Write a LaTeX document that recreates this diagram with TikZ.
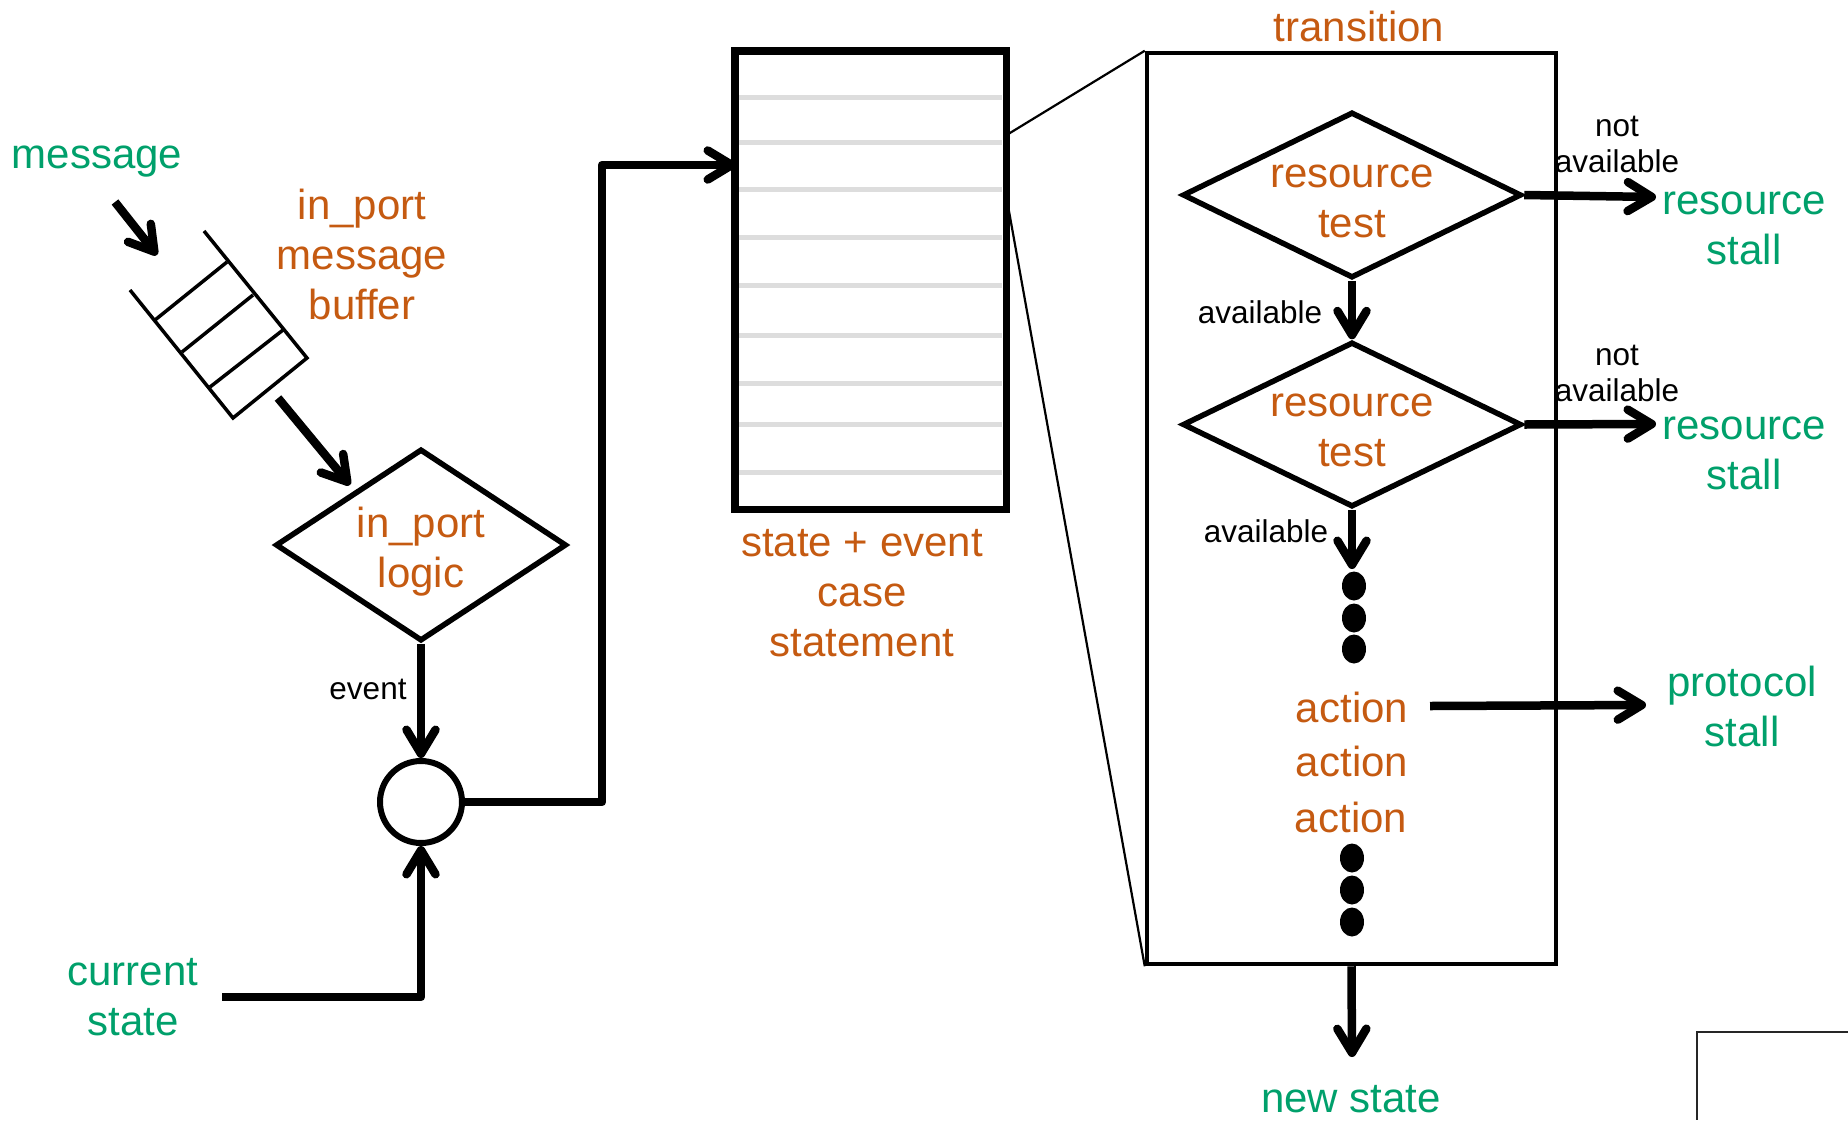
\documentclass[tikz,border=0pt]{standalone}
\usepackage{fontspec}
\setmainfont{Liberation Sans}
\usetikzlibrary{arrows.meta,shapes.geometric}
\definecolor{lblorange}{HTML}{C55A11}
\definecolor{lblgreen}{HTML}{00A06B}
\definecolor{rowgray}{HTML}{DDDDDD}

\begin{document}
\begin{tikzpicture}[x=1pt,y=-1pt,
  biglbl/.style={font=\fontsize{42}{50}\selectfont, inner sep=0pt, align=center},
  olabel/.style={biglbl, text=lblorange},
  glabel/.style={biglbl, text=lblgreen},
  slabel/.style={font=\fontsize{31.5}{36}\selectfont, inner sep=0pt, align=center},
  flow/.style={line width=8.5pt, line join=round,
    -{Straight Barb[length=24pt, width=29pt, line cap=round, line join=round]}},
  decision/.style={diamond, draw, line width=5.5pt, inner sep=0pt, line join=miter},
  dotmark/.style={ellipse, fill=black, inner sep=0pt, minimum width=24pt, minimum height=29pt},
]
\useasboundingbox (0,0) rectangle (1848,1120);

% ---------------- input side ----------------
\node[glabel] (msg) at (97,162) {message};
\coordinate (msgA) at (115,202);
\coordinate (msgB) at (157,255);
\draw[flow] (msgA) -- (msgB);

% message buffer (open-ended queue drawn at an angle)
\coordinate (bufTL) at (130,290);
\coordinate (bufBL) at (233,418);
\coordinate (bufBR) at (307,358);
\coordinate (bufTR) at (204,231);
\draw[line width=3.5pt, line join=miter] (bufTL) -- (bufBL) -- (bufBR) -- (bufTR);
\draw[line width=3.5pt] (155,320) -- (227,262);
\draw[line width=3.5pt] (182,352) -- (253,295);
\draw[line width=3.5pt] (210,387) -- (283,330);

\node[olabel] (buflbl) at (362,254) {in\_port\\message\\buffer};

\node[decision, minimum width=291pt, minimum height=192pt] (logic) at (421,545) {};
\node[olabel] (logiclbl) at (logic.center) [yshift=-7pt] {in\_port\\logic};

\coordinate (bufOut) at (278,398);
\coordinate (logicIn) at (350,485);
\draw[flow] (bufOut) -- (logicIn);

\node[circle, draw, line width=6pt, minimum size=82pt, inner sep=0pt] (join) at (421,802) {};
\draw[flow] (logic.south) -- (join.north);
\node[slabel] (evlbl) at (368,689) {event};

\node[glabel] (cur) at (133,997) {current\\state};
\coordinate (curOut) at (222,997);
\draw[flow] (curOut) -| (join.south);

% ---------------- state/event table ----------------
\node[draw, line width=5pt, minimum width=269pt, minimum height=456pt, inner sep=0pt]
  (tbl) at (870.5,280) {};
\foreach \yy in {97,142,189,237,285,335,383,424,472}
  \draw[rowgray, line width=5pt] (739,\yy) -- (1002,\yy);
\draw[line width=5pt] (tbl.north west) rectangle (tbl.south east);

\coordinate (tblIn) at (736,165);
\coordinate (bendA) at (602,802);
\coordinate (bendB) at (602,165);
\draw[flow] (join.east) -- (bendA) -- (bendB) -- (tblIn);

\node[olabel] (tbllbl) at (862,593) {state + event\\case\\statement};

% ---------------- transition detail ----------------
\node[draw, line width=4.5pt, minimum width=409pt, minimum height=911pt, inner sep=0pt]
  (trans) at (1351.5,508.5) {};
\node[olabel] (translbl) at (1359,26) {transition};

\coordinate (zoomA) at (1005,136);
\coordinate (zoomB) at (1005,189);
\draw[line width=2.2pt] (zoomA) -- (trans.north west);
\draw[line width=2.2pt] (zoomB) -- (trans.south west);

\node[decision, minimum width=339pt, minimum height=166pt] (test1) at (1352,195) {};
\node[olabel] (test1lbl) at (test1.center) [yshift=-6pt] {resource\\test};
\node[decision, minimum width=339pt, minimum height=165pt] (test2) at (1352,424.5) {};
\node[olabel] (test2lbl) at (test2.center) [yshift=-6pt] {resource\\test};

\draw[flow] (test1.south) -- (test2.north);
\node[slabel] (av1) at (1260,312) {available};

\coordinate (dotsTop) at (1352,569);
\draw[flow] (test2.south) -- (dotsTop);
\node[slabel] (av2) at (1266,531) {available};

\coordinate (stall1) at (1656,197);
\coordinate (stall2) at (1656,424);
\draw[flow] (test1.east) -- (stall1);
\draw[flow] (test2.east) -- (stall2);
\node[slabel] (na1) at (1617,144) {not\\available};
\node[slabel] (na2) at (1617,373) {not\\available};
\node[glabel] (rs1) at (1744,228) {resource\\stall};
\node[glabel] (rs2) at (1744,453) {resource\\stall};

\node[dotmark] (d1) at (1354,586) {};
\node[dotmark] (d2) at (1354,618) {};
\node[dotmark] (d3) at (1354,649) {};

\node[olabel] (act1) at (1352,707) {action};
\node[olabel] (act2) at (1352,761) {action};
\node[olabel] (act3) at (1351,817) {action};

\coordinate (actOut) at (1430,706);
\coordinate (protoIn) at (1646,705);
\draw[flow] (actOut) -- (protoIn);
\node[glabel] (proto) at (1742,706) {protocol\\stall};

\node[dotmark] (d4) at (1352,858) {};
\node[dotmark] (d5) at (1352,890) {};
\node[dotmark] (d6) at (1352,922) {};

\coordinate (newIn) at (1352,1057);
\draw[flow] (trans.south) -- (newIn);
\node[glabel] (newst) at (1351,1099) {new state};

% corner of a further frame
\coordinate (frameC) at (1697,1032);
\draw[line width=2.5pt, draw=black!85] (1848,1032) -- (frameC) -- (1697,1120);
\end{tikzpicture}
\end{document}
